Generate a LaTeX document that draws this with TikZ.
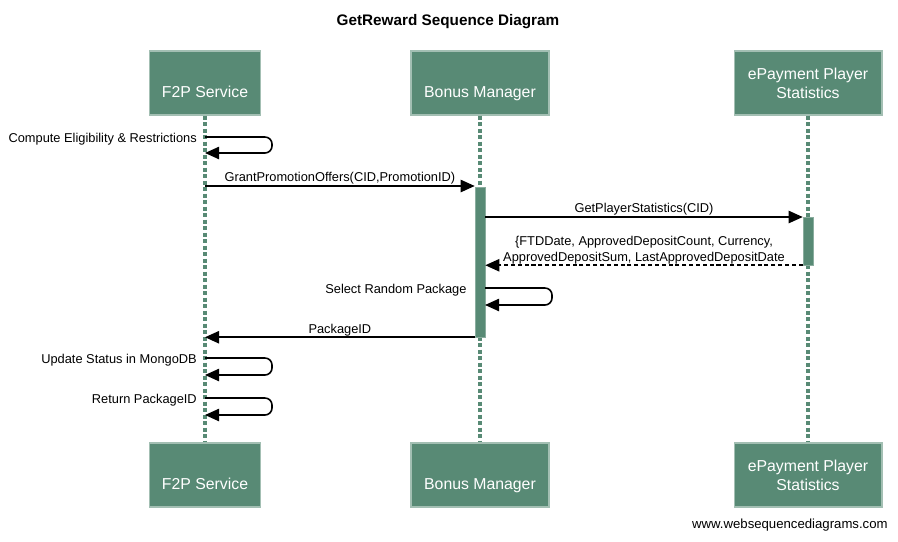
\documentclass[tikz,border=0pt]{standalone}
\usepackage{fontspec}
\setmainfont{Liberation Sans}
\usetikzlibrary{arrows.meta,positioning,calc}
\definecolor{wsdgreen}{RGB}{88,138,117}
\tikzset{
  actor/.style={draw=wsdgreen!55!white, line width=0.6pt, fill=wsdgreen, text=white,
    minimum height=1.28cm, align=center, inner sep=2pt,
    font=\fontsize{9}{10.8}\selectfont},
  oneline/.style={text height=18.8pt, text depth=1.9pt},
  lifeline/.style={wsdgreen, line width=1.8pt, dash pattern=on 2.5pt off 1.2pt},
  actbar/.style={fill=wsdgreen, draw=wsdgreen!70!white, line width=0.3pt,
    minimum width=0.2cm, inner sep=0pt},
  msg/.style={line width=0.9pt, -{Triangle[length=8pt,width=7pt]}},
  reply/.style={msg, dash pattern=on 2.3pt off 1.6pt},
  lbl/.style={font=\fontsize{7.3}{8.8}\selectfont, inner sep=1.5pt},
  toplbl/.style={lbl, inner sep=0.4pt, midway, above},
  selflbl/.style={lbl, yshift=-1.2pt},
}
\begin{document}
\begin{tikzpicture}[x=0.02cm,y=-0.02cm]
\useasboundingbox (0,0) rectangle (898,541);
%title
\node[font=\fontsize{8.7}{10}\selectfont\bfseries] (title) at (448,22) {GetReward Sequence Diagram};

%participants, top row
\node[actor, oneline, minimum width=2.22cm] (f2pTop) at (205,83) {F2P Service};
\node[actor, oneline, minimum width=2.76cm] (bmTop) at (480,83) {Bonus Manager};
\node[actor, minimum width=2.96cm] (epsTop) at (808,83) {ePayment Player\\Statistics};
%participants, bottom row
\node[actor, oneline, minimum width=2.22cm] (f2pBot) at (205,475) {F2P Service};
\node[actor, oneline, minimum width=2.76cm] (bmBot) at (480,475) {Bonus Manager};
\node[actor, minimum width=2.96cm] (epsBot) at (808,475) {ePayment Player\\Statistics};

%lifelines
\draw[lifeline] (f2pTop) -- (f2pBot);
\draw[lifeline] (bmTop) -- (bmBot);
\draw[lifeline] (epsTop) -- (epsBot);

%activations
\node[actbar, minimum height=3cm] (bmAct) at (480,262) {};
\node[actbar, minimum height=0.96cm] (epsAct) at (808,241) {};

%messages
\coordinate (m1) at (205,137);
\coordinate (m1b) at (205,153);
\draw[msg, rounded corners=4pt] (m1) -- ++(67,0) -- ++(0,16) -- (m1b);
\node[selflbl, left=3pt of m1] (m1lbl) {Compute Eligibility \& Restrictions};

\coordinate (m2) at (205,186);
\draw[msg] (m2) -- (m2 -| bmAct.west) node[toplbl] {GrantPromotionOffers(CID,PromotionID)};

\coordinate (m3) at (480,217);
\draw[msg] (m3 -| bmAct.east) -- (m3 -| epsAct.west) node[toplbl] {GetPlayerStatistics(CID)};

\draw[reply] (epsAct.south west) -- (epsAct.south west -| bmAct.east)
  node[toplbl, align=center] {\{FTDDate, ApprovedDepositCount, Currency,\\ApprovedDepositSum, LastApprovedDepositDate};

\coordinate (m5) at (485,288);
\coordinate (m5b) at (485,305);
\draw[msg, rounded corners=4pt] (m5) -- ++(67,0) -- ++(0,17) -- (m5b);
\node[selflbl, left=3pt of bmAct.west |- m5] (m5lbl) {Select Random Package};

\draw[msg] (bmAct.south west) -- (bmAct.south west -| f2pTop) node[toplbl] {PackageID};

\coordinate (m7) at (205,358);
\coordinate (m7b) at (205,375);
\draw[msg, rounded corners=4pt] (m7) -- ++(67,0) -- ++(0,17) -- (m7b);
\node[selflbl, left=3pt of m7] (m7lbl) {Update Status in MongoDB};

\coordinate (m8) at (205,398);
\coordinate (m8b) at (205,415);
\draw[msg, rounded corners=4pt] (m8) -- ++(67,0) -- ++(0,17) -- (m8b);
\node[selflbl, left=3pt of m8] (m8lbl) {Return PackageID};

%footer
\node[anchor=east, font=\fontsize{7.5}{9}\selectfont, inner sep=0pt] (footer) at (888,525) {www.websequencediagrams.com};
\end{tikzpicture}
\end{document}
